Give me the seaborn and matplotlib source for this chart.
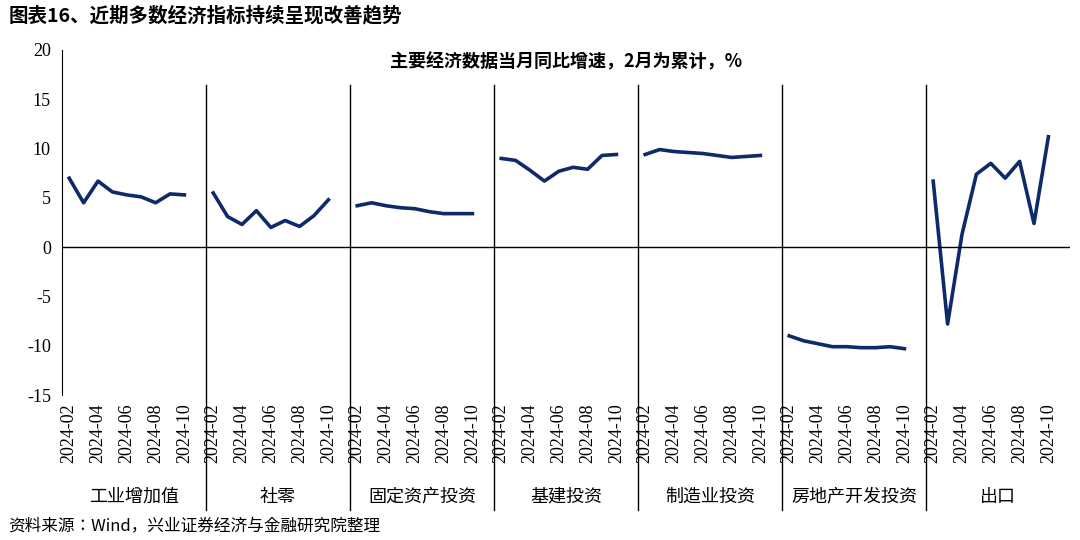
import pandas as pd
import seaborn as sns
import matplotlib.pyplot as plt
from matplotlib import font_manager

# 找一个可用的中文字体
names = {f.name for f in font_manager.fontManager.ttflist}
cjk = next((n for n in ['Noto Sans CJK SC', 'Noto Sans CJK JP', 'Noto Sans CJK TC',
                        'Noto Sans CJK KR', 'Noto Sans SC'] if n in names), 'DejaVu Sans')
plt.rcParams['font.family'] = ['Liberation Serif', cjk]
plt.rcParams['axes.unicode_minus'] = False

# 数据：2024-02 至 2024-10，当月同比（2月为累计）
months = ['2024-02', '2024-03', '2024-04', '2024-05', '2024-06',
          '2024-07', '2024-08', '2024-09', '2024-10']
groups = ['工业增加值', '社零', '固定资产投资', '基建投资', '制造业投资', '房地产开发投资', '出口']
industry = [7.0, 4.5, 6.7, 5.6, 5.3, 5.1, 4.5, 5.4, 5.3]
retail = [5.5, 3.1, 2.3, 3.7, 2.0, 2.7, 2.1, 3.2, 4.8]
fixed_inv = [4.2, 4.5, 4.2, 4.0, 3.9, 3.6, 3.4, 3.4, 3.4]
infra = [9.0, 8.8, 7.8, 6.7, 7.7, 8.1, 7.9, 9.3, 9.4]
manuf = [9.4, 9.9, 9.7, 9.6, 9.5, 9.3, 9.1, 9.2, 9.3]
realestate = [-9.0, -9.5, -9.8, -10.1, -10.1, -10.2, -10.2, -10.1, -10.3]
export = [6.7, -7.8, 1.3, 7.4, 8.5, 7.0, 8.7, 2.4, 11.2]
series = [industry, retail, fixed_inv, infra, manuf, realestate, export]

rows = []
for g, (name, vals) in enumerate(zip(groups, series)):
    for i, (m, v) in enumerate(zip(months, vals)):
        rows.append({'grp': name, 'x': g * 10 + i + 0.5, 'month': m, 'val': v})
df = pd.DataFrame(rows)

navy = '#0F2A6B'
fig = plt.figure(figsize=(10.8, 5.4), dpi=100)
ax = fig.add_axes([62 / 1080, 1 - 395 / 540, 1008 / 1080, 345 / 540])

for name in groups:
    sns.lineplot(data=df[df.grp == name], x='x', y='val', color=navy, lw=2.6, ax=ax)

ax.set_xlim(0, 70)
ax.set_ylim(-15, 20)
ax.set_yticks(range(-15, 21, 5))
ax.tick_params(axis='y', labelsize=13, length=0, pad=8)
ax.axhline(0, color='black', lw=1)
for s in ['top', 'right', 'bottom']:
    ax.spines[s].set_visible(False)
ax.spines['left'].set_color('black')

tick_df = df[df.month.isin(['2024-02', '2024-04', '2024-06', '2024-08', '2024-10'])]
ax.set_xticks(tick_df.x)
ax.set_xticklabels(tick_df.month, rotation=90, fontsize=13)
ax.tick_params(axis='x', length=0, pad=6)
ax.set_xlabel('')
ax.set_ylabel('')

tr = ax.get_xaxis_transform()
for g in range(1, 7):
    ax.plot([g * 10, g * 10], [-0.333, 0.9], color='black', lw=1, transform=tr, clip_on=False)
for g, name in enumerate(groups):
    ax.text(g * 10 + 5, -0.295, name, transform=tr, ha='center', va='center',
            fontsize=13, family=cjk)

ax.text(0.5, 0.965, '主要经济数据当月同比增速，2月为累计，%', transform=ax.transAxes,
        ha='center', va='center', fontsize=13, fontweight='bold', family=cjk)
fig.text(0.008, 0.972, '图表16、近期多数经济指标持续呈现改善趋势', ha='left', va='center',
         fontsize=14, fontweight='bold', family=cjk)
fig.text(0.008, 0.025, '资料来源：Wind，兴业证券经济与金融研究院整理', ha='left', va='center',
         fontsize=12, family=cjk)

fig.savefig('out.png', dpi=100)
